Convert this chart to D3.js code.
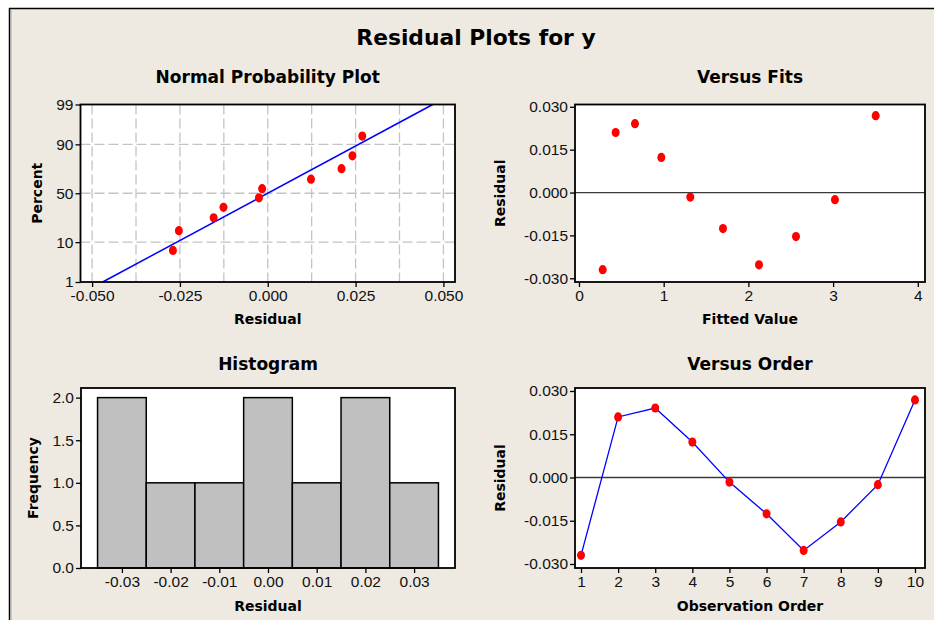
<!DOCTYPE html>
<html><head><meta charset="utf-8">
<script src="https://cdn.jsdelivr.net/npm/d3@7"></script>
<style>html,body{margin:0;padding:0;background:#fff;} svg{display:block;}</style>
</head><body>
<script>
// ---------------- data ----------------
const observationOrder = [1, 2, 3, 4, 5, 6, 7, 8, 9, 10];
const fittedValues = [0.28, 0.433, 0.661, 0.972, 1.314, 1.70, 2.125, 2.562, 3.022, 3.503];
const residuals = [-0.0270, 0.0210, 0.0241, 0.0123, -0.0016, -0.0126, -0.0253, -0.0154, -0.0025, 0.0269];
const normalPercents = [6.7, 16.3, 26.0, 35.6, 45.2, 54.8, 64.4, 74.0, 83.7, 93.3];
const histBinCenters = [-0.03, -0.02, -0.01, 0.00, 0.01, 0.02, 0.03];
const histCounts = [2, 1, 1, 2, 1, 2, 1];
const histBinWidth = 0.01;
const probYTicks = [1, 10, 50, 90, 99];
const probGridY = [10, 50, 90];
const probXTicks = [-0.050, -0.025, 0.000, 0.025, 0.050];
const probGridX = [-0.050, -0.0375, -0.025, -0.0125, 0.000, 0.0125, 0.025, 0.0375, 0.050];
const residTicks = [-0.030, -0.015, 0.000, 0.015, 0.030];
const fitsXTicks = [0, 1, 2, 3, 4];
const freqTicks = [0.0, 0.5, 1.0, 1.5, 2.0];
const histXTicks = [-0.03, -0.02, -0.01, 0.00, 0.01, 0.02, 0.03];
const orderXTicks = [1, 2, 3, 4, 5, 6, 7, 8, 9, 10];

// ---------------- helpers ----------------
function probit(p){
  const a=[-3.969683028665376e+01,2.209460984245205e+02,-2.759285104469687e+02,1.383577518672690e+02,-3.066479806614716e+01,2.506628277459239e+00];
  const b=[-5.447609879822406e+01,1.615858368580409e+02,-1.556989798598866e+02,6.680131188771972e+01,-1.328068155288572e+01];
  const c=[-7.784894002430293e-03,-3.223964580411365e-01,-2.400758277161838e+00,-2.549732539343734e+00,4.374664141464968e+00,2.938163982698783e+00];
  const d=[7.784695709041462e-03,3.224671290700398e-01,2.445134137142996e+00,3.754408661907416e+00];
  const pl=0.02425, ph=1-pl; let q,r;
  if(p<pl){q=Math.sqrt(-2*Math.log(p));return (((((c[0]*q+c[1])*q+c[2])*q+c[3])*q+c[4])*q+c[5])/((((d[0]*q+d[1])*q+d[2])*q+d[3])*q+1);}
  if(p<=ph){q=p-0.5;r=q*q;return (((((a[0]*r+a[1])*r+a[2])*r+a[3])*r+a[4])*r+a[5])*q/(((((b[0]*r+b[1])*r+b[2])*r+b[3])*r+b[4])*r+1);}
  q=Math.sqrt(-2*Math.log(1-p));return -(((((c[0]*q+c[1])*q+c[2])*q+c[3])*q+c[4])*q+c[5])/((((d[0]*q+d[1])*q+d[2])*q+d[3])*q+1);
}
const fmt = f => v => d3.format(f)(v).replace("\u2212", "-");

const W = 934, H = 620;
const TITLE_FONT = "'DejaVu Sans', Verdana, sans-serif";
const TICK_FONT = "'Liberation Sans', Arial, sans-serif";

const svg = d3.select("body").append("svg").attr("width", W).attr("height", H);
svg.append("rect").attr("width", W).attr("height", H).attr("fill", "#ffffff");
svg.append("rect").attr("x", 9).attr("y", 8).attr("width", W).attr("height", H)
  .attr("fill", "#eeeae1");
svg.append("line").attr("x1", 9).attr("x2", W).attr("y1", 8.5).attr("y2", 8.5).attr("stroke", "#000").attr("stroke-width", 1.5);
svg.append("line").attr("x1", 9.5).attr("x2", 9.5).attr("y1", 8).attr("y2", H).attr("stroke", "#000").attr("stroke-width", 1.5);
svg.append("line").attr("x1", 11).attr("x2", 11).attr("y1", 9).attr("y2", H).attr("stroke", "#a9a9a9").attr("stroke-width", 1);

svg.append("text").attr("x", 476).attr("y", 45).attr("text-anchor", "middle")
  .attr("font-family", TITLE_FONT).attr("font-weight", "bold").attr("font-size", 21.8)
  .text("Residual Plots for y");

function panel(o){
  const g = svg.append("g");
  g.append("rect").attr("x", o.x0).attr("y", o.y0).attr("width", o.x1 - o.x0).attr("height", o.y1 - o.y0).attr("fill", "#fff");
  const body = g.append("g");
  const ya = g.append("g").attr("transform", `translate(${o.x0},0)`)
    .call(d3.axisLeft(o.y).tickValues(o.yTicks).tickFormat(o.yFmt).tickSize(5).tickPadding(2));
  const xa = g.append("g").attr("transform", `translate(0,${o.y1})`)
    .call(d3.axisBottom(o.x).tickValues(o.xTicks).tickFormat(o.xFmt).tickSize(5).tickPadding(3));
  [ya, xa].forEach(a => {
    a.select(".domain").remove();
    a.selectAll("line").attr("stroke", "#000").attr("stroke-width", 1.3);
    a.selectAll("text").attr("font-family", TICK_FONT).attr("font-size", 15.5).attr("fill", "#111");
  });
  const cx = (o.x0 + o.x1) / 2, cy = (o.y0 + o.y1) / 2;
  g.append("text").attr("x", cx).attr("y", o.titleY).attr("text-anchor", "middle")
    .attr("font-family", TITLE_FONT).attr("font-weight", "bold").attr("font-size", 17).text(o.title);
  g.append("text").attr("x", cx).attr("y", o.xLabelY).attr("text-anchor", "middle")
    .attr("font-family", TITLE_FONT).attr("font-weight", "bold").attr("font-size", 14).text(o.xLabel);
  g.append("text").attr("transform", `translate(${o.yLabelX},${cy}) rotate(-90)`).attr("text-anchor", "middle")
    .attr("font-family", TITLE_FONT).attr("font-weight", "bold").attr("font-size", 14).text(o.yLabel);
  return {g, body, frame: () => g.append("rect").attr("x", o.x0).attr("y", o.y0)
    .attr("width", o.x1 - o.x0).attr("height", o.y1 - o.y0).attr("fill", "none")
    .attr("stroke", "#000").attr("stroke-width", 1.8)};
}

function dots(sel, pts){
  sel.selectAll(null).data(pts).join("ellipse")
    .attr("cx", d => d[0]).attr("cy", d => d[1])
    .attr("rx", 4).attr("ry", 4.6).attr("fill", "#ff0000");
}

// ---------------- Normal probability plot ----------------
{
  const x0 = 80.5, x1 = 455, y0 = 104.5, y1 = 282;
  const x = d3.scaleLinear().domain([-0.0533, 0.0533]).range([x0, x1]);
  const z = d3.scaleLinear().domain([probit(0.01), probit(0.99)]).range([y1, y0]);
  const y = p => z(probit(p / 100));
  const P = panel({x0, x1, y0, y1, x, y: z, xTicks: probXTicks,
    yTicks: probYTicks.map(p => probit(p / 100)),
    xFmt: fmt(".3f"), yFmt: (d, i) => String(probYTicks[i]), title: "Normal Probability Plot",
    titleY: 83, xLabel: "Residual", xLabelY: 324, yLabel: "Percent", yLabelX: 42});
  const b = P.body;
  b.selectAll(null).data(probGridX).join("line")
    .attr("x1", d => x(d)).attr("x2", d => x(d)).attr("y1", y0).attr("y2", y1)
    .attr("stroke", "#c4c4c4").attr("stroke-width", 1.3).attr("stroke-dasharray", "10,4");
  b.selectAll(null).data(probGridY).join("line")
    .attr("x1", x0).attr("x2", x1).attr("y1", d => y(d)).attr("y2", d => y(d))
    .attr("stroke", "#c4c4c4").attr("stroke-width", 1.3).attr("stroke-dasharray", "10,4");
  const mu = d3.mean(residuals), sd = d3.deviation(residuals);
  const ends = [1, 99];
  b.append("line")
    .attr("x1", x(mu + sd * probit(ends[0] / 100))).attr("y1", y(ends[0]))
    .attr("x2", x(mu + sd * probit(ends[1] / 100))).attr("y2", y(ends[1]))
    .attr("stroke", "#0000ff").attr("stroke-width", 1.5);
  const sorted = residuals.slice().sort(d3.ascending);
  dots(b, sorted.map((r, i) => [x(r), y(normalPercents[i])]));
  P.frame();
}

// ---------------- Versus Fits ----------------
{
  const x0 = 575, x1 = 925, y0 = 104.5, y1 = 282;
  const x = d3.scaleLinear().domain([-0.047, 4.085]).range([x0, x1]);
  const y = d3.scaleLinear().domain([-0.0313, 0.0308]).range([y1, y0]);
  const P = panel({x0, x1, y0, y1, x, y, xTicks: fitsXTicks, yTicks: residTicks,
    xFmt: d => String(d), yFmt: fmt(".3f"), title: "Versus Fits",
    titleY: 83, xLabel: "Fitted Value", xLabelY: 324, yLabel: "Residual", yLabelX: 505});
  P.body.append("line").attr("x1", x0).attr("x2", x1).attr("y1", y(0)).attr("y2", y(0))
    .attr("stroke", "#3a3a3a").attr("stroke-width", 1.3);
  dots(P.body, fittedValues.map((f, i) => [x(f), y(residuals[i])]));
  P.frame();
}

// ---------------- Histogram ----------------
{
  const x0 = 81, x1 = 455, y0 = 388, y1 = 568;
  const x = d3.scaleLinear().domain([-0.0384, 0.0384]).range([x0, x1]);
  const y = d3.scaleLinear().domain([0, 2.113]).range([y1, y0]);
  const P = panel({x0, x1, y0, y1, x, y, xTicks: histXTicks, yTicks: freqTicks,
    xFmt: fmt(".2f"), yFmt: fmt(".1f"), title: "Histogram",
    titleY: 369.5, xLabel: "Residual", xLabelY: 610.5, yLabel: "Frequency", yLabelX: 37.5});
  P.body.selectAll(null).data(histBinCenters).join("rect")
    .attr("x", d => x(d - histBinWidth / 2)).attr("width", d => x(d + histBinWidth / 2) - x(d - histBinWidth / 2))
    .attr("y", (d, i) => y(histCounts[i])).attr("height", (d, i) => y(0) - y(histCounts[i]))
    .attr("fill", "#c0c0c0").attr("stroke", "#000").attr("stroke-width", 1.5);
  P.frame();
}

// ---------------- Versus Order ----------------
{
  const x0 = 575, x1 = 925, y0 = 388, y1 = 568;
  const x = d3.scaleLinear().domain([0.838, 10.27]).range([x0, x1]);
  const y = d3.scaleLinear().domain([-0.03139, 0.03104]).range([y1, y0]);
  const P = panel({x0, x1, y0, y1, x, y, xTicks: orderXTicks, yTicks: residTicks,
    xFmt: d => String(d), yFmt: fmt(".3f"), title: "Versus Order",
    titleY: 369.5, xLabel: "Observation Order", xLabelY: 610.5, yLabel: "Residual", yLabelX: 505});
  P.body.append("line").attr("x1", x0).attr("x2", x1).attr("y1", y(0)).attr("y2", y(0))
    .attr("stroke", "#3a3a3a").attr("stroke-width", 1.3);
  const line = d3.line().x((d, i) => x(observationOrder[i])).y(d => y(d));
  P.body.append("path").attr("d", line(residuals)).attr("fill", "none")
    .attr("stroke", "#0000ff").attr("stroke-width", 1.3);
  dots(P.body, observationOrder.map((o, i) => [x(o), y(residuals[i])]));
  P.frame();
}
</script>
</body></html>
